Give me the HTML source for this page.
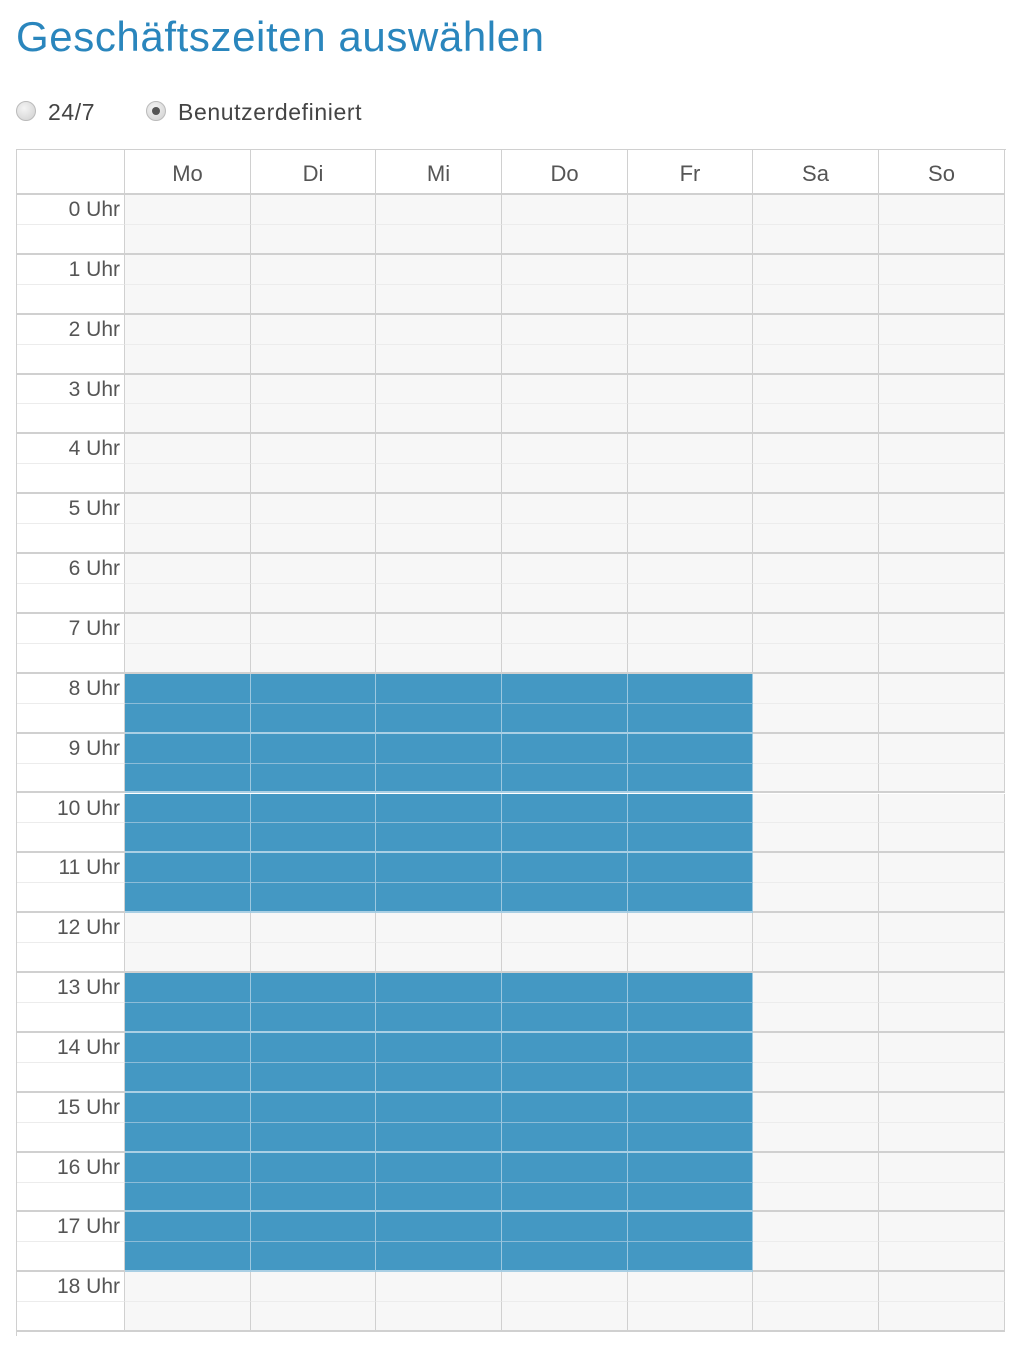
<!DOCTYPE html>
<html><head><meta charset="utf-8">
<style>
body{margin:0;width:1024px;height:1352px;background:#fff;overflow:hidden;font-family:"Liberation Sans","DejaVu Sans",sans-serif;position:relative}
#title{position:absolute;left:16px;top:13px;font-size:42px;color:#2a86bd;letter-spacing:0.6px}
.radio{position:absolute;top:99px;font-size:23px;color:#444}
.radio .c{position:absolute;left:0;top:2px;width:20px;height:20px;border-radius:50%;background:radial-gradient(circle at 40% 35%,#f4f4f4,#cfcfcf);border:1px solid #bbb;box-sizing:border-box}
.radio .c.on::after{content:"";position:absolute;left:5px;top:5px;width:8px;height:8px;border-radius:50%;background:#555}
.radio span{position:absolute;left:32px;top:0;white-space:nowrap;letter-spacing:0.6px}
#grid{position:absolute;left:16px;top:149px;width:989px;height:1186px;overflow:hidden;border-left:1px solid #d0d0d0;border-top:1px solid #d0d0d0}
.cell{position:absolute;box-sizing:border-box}
.hdr{position:absolute;top:0;height:45px;font-size:22px;color:#555;text-align:center;line-height:48px;box-sizing:border-box;border-right:1px solid #d0d0d0;border-bottom:2px solid #d0d0d0;background:#fff}
.lbl{position:absolute;left:0;width:107px;text-align:right;font-size:21px;color:#555;padding-right:4px;box-sizing:border-box}
</style></head><body>
<div id="title">Geschäftszeiten auswählen</div>
<div class="radio" style="left:16px"><div class="c"></div><span>24/7</span></div>
<div class="radio" style="left:146px"><div class="c on"></div><span>Benutzerdefiniert</span></div>
<div id="grid"></div>
<script>
const days=["Mo","Di","Mi","Do","Fr","Sa","So"];
const hours=[0,1,2,3,4,5,6,7,8,9,10,11,12,13,14,15,16,17,18];
// selected hour ranges [start,end) and selected days
const selectedRanges=[[8,12],[13,18]];
const selectedDays=["Mo","Di","Mi","Do","Fr"];
const g=document.getElementById('grid');
const colX=[0,108,234,359,485,611,736,862,988];
const top0=45,rowH=59.85;
function isSel(day,slot){
  if(selectedDays.indexOf(day)<0)return false;
  const h=slot/2;
  return selectedRanges.some(r=>h>=r[0]&&h<r[1]);
}
const corner=document.createElement('div');
corner.className='hdr';corner.style.left='0px';corner.style.width='108px';


g.appendChild(corner);
days.forEach((d,i)=>{
  const h=document.createElement('div');
  h.className='hdr';h.textContent=d;
  h.style.left=colX[i+1]+'px';h.style.width=(colX[i+2]-colX[i+1])+'px';
  
  
  g.appendChild(h);
});
hours.forEach((hr,hi)=>{
  for(let half=0;half<2;half++){
    const slot=hr*2+half;
    const y=top0+hi*rowH+half*rowH/2;
    const lc=document.createElement('div');
    lc.className='cell';
    lc.style.cssText=`left:0;top:${y}px;width:108px;height:${rowH/2}px;background:#fff;border-right:1px solid #d0d0d0;border-bottom:${half?2:1}px solid ${half?'#d0d0d0':'#ececec'}`;
    
    
    g.appendChild(lc);
    days.forEach((d,i)=>{
      const c=document.createElement('div');
      c.className='cell';
      const sel=isSel(d,slot);
      const bb=half?(sel?'2px solid #a9cfe4':'2px solid #d0d0d0'):(sel?'1px solid #8cbcd8':'1px solid #ececec');
      c.style.cssText=`left:${colX[i+1]}px;top:${y}px;width:${colX[i+2]-colX[i+1]}px;height:${rowH/2}px;background:${sel?'#4498c3':'#f7f7f7'};border-right:1px solid ${sel?'#9cc8e0':'#d0d0d0'};border-bottom:${bb}`;
      
      
      g.appendChild(c);
    });
  }
  const l=document.createElement('div');
  l.className='lbl';l.textContent=hr+' Uhr';
  l.style.top=(top0+hi*rowH+3)+'px';
  
  
  g.appendChild(l);
});
</script>
</body></html>
